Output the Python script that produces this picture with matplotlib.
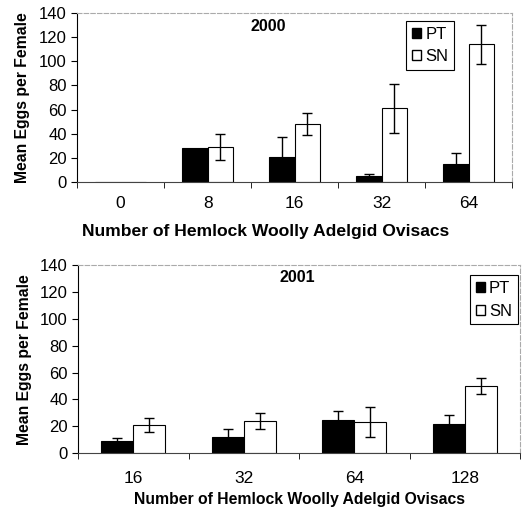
import numpy as np
import matplotlib.pyplot as plt
from matplotlib.patches import Patch

plt.rcParams['font.family'] = ['Liberation Sans', 'DejaVu Sans']

# 2000 data
cats2000 = ['0', '8', '16', '32', '64']
pt2000 = [0, 28, 21, 5, 15]
pt2000_err = [0, 0, 16, 2, 9]
sn2000 = [0, 29, 48, 61, 114]
sn2000_err = [0, 11, 9, 20, 16]

# 2001 data
cats2001 = ['16', '32', '64', '128']
pt2001 = [9, 12, 25, 22]
pt2001_err = [2, 6, 6, 6]
sn2001 = [21, 24, 23, 50]
sn2001_err = [5, 6, 11, 6]


def bars_with_err(ax, xpos, vals, errs, w, face):
    ax.bar(xpos, vals, w, color=face, edgecolor='black', linewidth=0.8, zorder=2)
    vals = np.asarray(vals, float)
    errs = np.asarray(errs, float)
    keep = errs > 0
    ax.errorbar(xpos[keep], vals[keep], yerr=errs[keep], fmt='none', ecolor='black',
                elinewidth=1.0, capsize=3.5, capthick=1.0, zorder=3)


def panel(ax, cats, pt, pterr, sn, snerr, year, title_pos, legend_anchor,
          xlab_size, xlab_pos, tick_pad):
    x = np.arange(len(cats))
    w = 0.29
    bars_with_err(ax, x - w / 2, pt, pterr, w, 'black')
    bars_with_err(ax, x + w / 2, sn, snerr, w, 'white')
    ax.set_xlim(-0.5, len(cats) - 0.5)
    ax.set_ylim(0, 140)
    ax.set_yticks(range(0, 141, 20))
    ax.set_xticks(x)
    ax.set_xticklabels(cats)
    ax.tick_params(axis='x', length=0, pad=tick_pad, labelsize=12.5)
    ax.set_xticks(np.arange(len(cats) + 1) - 0.5, minor=True)
    ax.tick_params(axis='x', which='minor', length=4, direction='out', width=0.6)
    ax.tick_params(axis='y', length=4, direction='out', labelsize=12, width=0.8)
    for s in ['top', 'right']:
        ax.spines[s].set_color('#aaaaaa')
        ax.spines[s].set_linestyle((0, (4, 2)))
        ax.spines[s].set_linewidth(0.8)
    ax.spines['left'].set_linewidth(0.8)
    ax.spines['bottom'].set_linewidth(0.8)
    ax.spines['bottom'].set_color('#444444')
    ax.set_ylabel('Mean Eggs per Female', fontweight='bold', fontsize=11.3, labelpad=6)
    ax.set_xlabel('Number of Hemlock Woolly Adelgid Ovisacs', fontweight='bold',
                  fontsize=xlab_size)
    ax.xaxis.set_label_coords(xlab_pos[0], xlab_pos[1])
    ax.text(title_pos[0], title_pos[1], year, transform=ax.transAxes, fontweight='bold',
            fontsize=11.5, ha='center', va='center')
    handles = [Patch(facecolor='black', edgecolor='black', label='PT'),
               Patch(facecolor='white', edgecolor='black', label='SN')]
    leg = ax.legend(handles=handles, loc='upper right', bbox_to_anchor=legend_anchor,
                    fontsize=12, handlelength=0.55, handleheight=0.55,
                    handletextpad=0.25, borderpad=0.35, labelspacing=0.45,
                    borderaxespad=0, fancybox=False, framealpha=1, edgecolor='black')
    leg.get_frame().set_linewidth(0.8)


fig = plt.figure(figsize=(5.28, 5.16), dpi=100)
ax1 = fig.add_axes([0.146, 0.647, 0.824, 0.328])
ax2 = fig.add_axes([0.148, 0.122, 0.837, 0.364])

panel(ax1, cats2000, pt2000, pt2000_err, sn2000, sn2000_err, '2000',
      (0.44, 0.92), (0.867, 0.953), 12.6, (0.434, -0.25), 10)
panel(ax2, cats2001, pt2001, pt2001_err, sn2001, sn2001_err, '2001',
      (0.495, 0.936), (0.995, 0.947), 11.3, (0.5, -0.205), 13)

fig.savefig('out.png', dpi=100)
